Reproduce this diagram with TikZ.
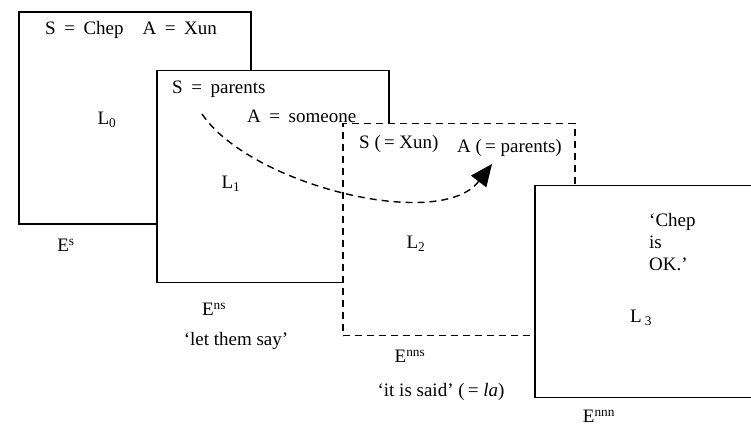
\documentclass[tikz,border=0pt]{standalone}
\usepackage{fontspec}
\setmainfont{Liberation Serif}
\usetikzlibrary{arrows.meta,positioning,calc}

\tikzset{
  frame/.style={draw,fill=white,line width=1.4pt,minimum width=232pt,minimum height=212pt,inner sep=0pt},
  dframe/.style={frame,dash pattern=on 7pt off 5pt},
  lab/.style={font=\fontsize{19}{22}\selectfont,inner sep=0pt},
}
\newcommand{\eq}{\hspace{0.45em}=\hspace{0.45em}}

\begin{document}
\begin{tikzpicture}[x=1pt,y=-1pt]
  \useasboundingbox (0,0) rectangle (751,429);
  % the four frames, each one covering the previous
  \node[frame] (e0) at (135,118){};
  \node[frame] (e1) at (273,176.5){};
  \node[dframe] (e2) at (459,229.5){};
  \node[frame,minimum width=240pt] (e3) at (655,291.5){};
  % frame texts
  \node[lab,anchor=west] (sa0) at (45,30){S\eq Chep\hspace{1em}A\eq Xun};
  \node[lab] (l0) at (107,120){L\textsubscript{0}};
  \node[lab] (es) at (66,245){E\textsuperscript{s}};
  \node[lab,anchor=west] (s1) at (172,89){S\eq parents};
  \node[lab,anchor=west] (a1) at (247,116){A\eq someone};
  \node[lab] (l1) at (231,184){L\textsubscript{1}};
  \node[lab] (ens) at (214,309){E\textsuperscript{ns}};
  \node[lab] (say1) at (236,341){`let them say'};
  \node[lab,anchor=west] (s2) at (359,144){S (\,=\ Xun)};
  \node[lab,anchor=west] (a2) at (457,148){A (\,=\ parents)};
  \node[lab] (l2) at (416,244){L\textsubscript{2}};
  \node[lab] (enns) at (410,356){E\textsuperscript{nns}};
  \node[lab] (say2) at (441,392){`it is said' (\,=\ \textit{la})};
  \node[lab,anchor=west,align=left] (chep) at (649,242){`Chep\\is\\OK.'};
  \node[lab] (l3) at (641,318){L\,\textsubscript{3}};
  \node[lab] (ennn) at (599,416){E\textsuperscript{nnn}};
  % dashed arrow from the S of L1 to the A of L2
  \coordinate (src) at (202,114);
  \coordinate (dst) at (492,164);
  \draw[line width=1.4pt,dash pattern=on 7pt off 5pt,-{Triangle[length=22pt,width=19pt]}]
    (src) .. controls (250,185) and (440,232) .. (dst);
\end{tikzpicture}
\end{document}
